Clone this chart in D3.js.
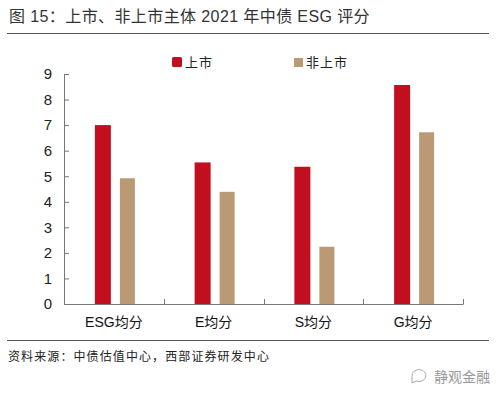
<!DOCTYPE html>
<html>
<head>
<meta charset="utf-8">
<script src="https://cdn.jsdelivr.net/npm/d3@7"></script>
<style>
  body { margin: 0; background: #fff; }
  svg text { font-family: "Liberation Sans", Arial, "Noto Sans CJK SC", sans-serif; }
</style>
</head>
<body>
<svg id="chart" width="499" height="397"></svg>
<script>
// data
var categories = ["ESG均分", "E均分", "S均分", "G均分"],
    seriesNames = ["上市", "非上市"],
    listed = [7.0, 5.54, 5.37, 8.57],
    unlisted = [4.92, 4.39, 2.24, 6.72],
    yTicks = [0, 1, 2, 3, 4, 5, 6, 7, 8, 9],
    colors = ["#C10F1F", "#BA9A74"];

var svg = d3.select("#chart"),
    mLeft = 64, mRight = 463, mTop = 74, mBottom = 304;

var x = d3.scaleBand().domain(categories).range([mLeft, mRight]),
    y = d3.scaleLinear().domain([0, 9]).range([mBottom, mTop]),
    cjk = '"Noto Sans CJK SC", sans-serif';

// title + rules
svg.append("text")
    .attr("x", 9).attr("y", 22)
    .style("font-size", "16px").style("fill", "#333").style("letter-spacing", "0.4px")
    .text("图 15：上市、非上市主体 2021 年中债 ESG 评分");
svg.append("line").attr("x1", 7).attr("x2", 489).attr("y1", 33.5).attr("y2", 33.5)
    .attr("stroke", "#555").attr("stroke-width", 1);
svg.append("line").attr("x1", 7).attr("x2", 489).attr("y1", 340.5).attr("y2", 340.5)
    .attr("stroke", "#555").attr("stroke-width", 1);

// legend
var legend = svg.selectAll(".legend")
    .data(seriesNames)
  .enter().append("g")
    .attr("transform", function(d, i) { return "translate(" + (i ? 294 : 172) + ",57)"; });
legend.append("rect")
    .attr("width", function(d, i) { return i ? 9 : 10; })
    .attr("height", function(d, i) { return i ? 9 : 10; })
    .attr("y", function(d, i) { return i ? 1 : 0; })
    .attr("rx", function(d, i) { return i ? 0 : 1.5; })
    .attr("fill", function(d, i) { return colors[i]; });
legend.append("text")
    .attr("x", function(d, i) { return i ? 12 : 13; }).attr("y", 10)
    .style("font-size", "13px").style("font-family", cjk).style("fill", "#222")
    .style("letter-spacing", "1px")
    .text(function(d) { return d; });

// axes
var yAxis = svg.append("g")
    .attr("transform", "translate(" + mLeft + ",0)")
    .call(d3.axisLeft(y).tickValues(yTicks).tickSizeInner(-5).tickSizeOuter(0).tickPadding(12));
yAxis.select(".domain").attr("stroke", "#777");
yAxis.selectAll(".tick line").attr("stroke", "#777");
yAxis.selectAll("text").style("font-size", "15px").style("fill", "#222")
    .style("font-family", '"Liberation Sans", Arial, sans-serif');

var xAxis = svg.append("g")
    .attr("transform", "translate(0," + mBottom + ")")
    .call(d3.axisBottom(x).tickSize(0).tickPadding(10));
xAxis.select(".domain").attr("stroke", "#777");
xAxis.selectAll("text").style("font-size", "14px").style("fill", "#111");
xAxis.selectAll(".tick text").attr("dy", "0.9em");

// category separators (inward ticks)
svg.append("g").selectAll("line")
    .data(categories)
  .enter().append("line")
    .attr("x1", function(d) { return Math.round(x(d) + x.bandwidth()) + 0.5; })
    .attr("x2", function(d) { return Math.round(x(d) + x.bandwidth()) + 0.5; })
    .attr("y1", mBottom).attr("y2", mBottom - 5)
    .attr("stroke", "#777");

// bars
[listed, unlisted].forEach(function(vals, s) {
  svg.append("g").selectAll("rect")
      .data(vals)
    .enter().append("rect")
      .attr("x", function(d, i) { return x(categories[i]) + x.bandwidth() / 2 + (s ? 6 : -19); })
      .attr("width", s ? 15 : 16)
      .attr("y", function(d) { return y(d); })
      .attr("height", function(d) { return mBottom - y(d); })
      .attr("fill", colors[s]);
});

// source + watermark
svg.append("text")
    .attr("x", 8).attr("y", 361)
    .style("font-size", "12px").style("font-family", cjk).style("fill", "#222")
    .style("letter-spacing", "1.1px")
    .text("资料来源：中债估值中心，西部证券研发中心");
var wm = svg.append("g").attr("transform", "translate(412,376)");
wm.append("path")
    .attr("d", "M0,0 a7,6 0 1,1 4,5 l-4,2 z")
    .attr("fill", "none").attr("stroke", "#aaa").attr("stroke-width", 1);
wm.append("text")
    .attr("x", 22).attr("y", 6)
    .style("font-size", "14px").style("font-family", cjk).style("fill", "#999")
    .text("静观金融");
</script>
</body>
</html>
